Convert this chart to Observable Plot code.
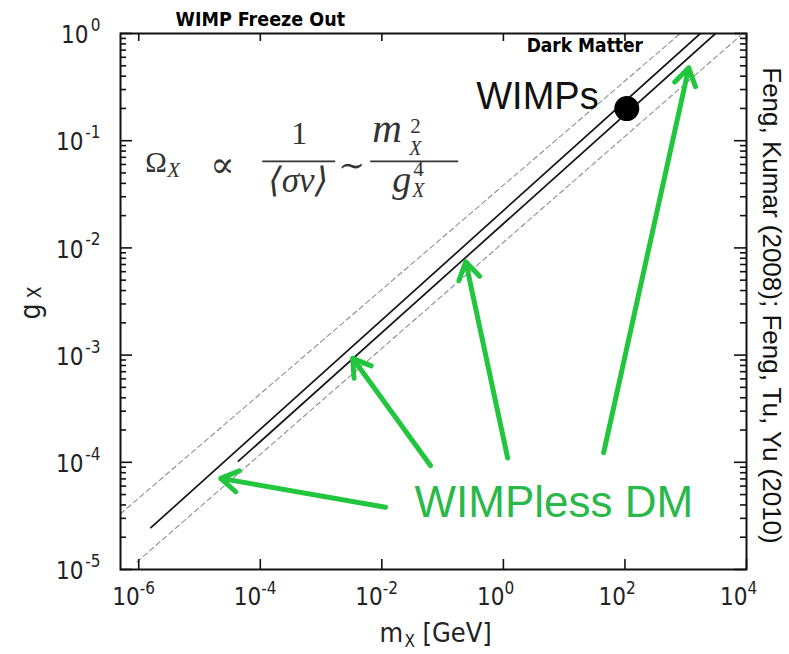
<!DOCTYPE html>
<html><head><meta charset="utf-8">
<script src="https://cdn.jsdelivr.net/npm/d3@7"></script>
<script src="https://cdn.jsdelivr.net/npm/@observablehq/plot@0.6"></script>
<style>
body{margin:0;background:#fff}
#chart{width:789px;height:654px}
</style>
</head><body><div id="chart"></div>
<script>
// ---- data (log10 values) ----
const xDomainLog = [-6.3, 4];
const yDomainLog = [-5, 0];
const xTickExps = [-6, -4, -2, 0, 2, 4];
const yTickExps = [0, -1, -2, -3, -4, -5];
const minorMultipliers = [2, 3, 4, 5, 6, 7, 8, 9];

// straight lines in log-log: endpoints [log10 m, log10 g]
const solidLineA = [[-5.80, -4.61], [3.24, 0.00]];
const solidLineB = [[-4.36, -3.99], [3.49, 0.00]];
const dashedLineA = [[-6.30, -4.48], [2.91, 0.00]];
const dashedLineB = [[-6.03, -4.93], [3.90, -0.02]];

// arrows: tail and head, log10 values
const arrowTailM = [-1.94, -1.20, 0.07, 1.65];
const arrowTailG = [-4.42, -4.03, -3.96, -3.91];
const arrowHeadM = [-4.65, -2.48, -0.62, 3.05];
const arrowHeadG = [-4.15, -3.03, -2.13, -0.32];

const wimpPoint = [2.03, -0.70];

const labels = {
  title: "WIMP Freeze Out",
  dark: "Dark Matter",
  wimps: "WIMPs",
  wimpless: "WIMPless DM",
  ref: "Feng, Kumar (2008); Feng, Tu, Yu (2010)"
};
const titlePos = [-4.0];
const darkPos = [1.34, -0.12];
const wimpsPos = [0.56, -0.59];
const wimplessPos = [0.83, -4.38];
const formulaAnchor = [-5.885, -1.30];

// ---- build tables ----
const p10 = v => Math.pow(10, v);
const toRows = (pts, id) => pts.map(([m, g]) => ({m: p10(m), g: p10(g), id}));
const solidRows = [...toRows(solidLineA, "a"), ...toRows(solidLineB, "b")];
const dashedRows = [...toRows(dashedLineA, "a"), ...toRows(dashedLineB, "b")];
const arrowRows = arrowTailM.map((_, i) => ({
  x1: p10(arrowTailM[i]), y1: p10(arrowTailG[i]),
  x2: p10(arrowHeadM[i]), y2: p10(arrowHeadG[i])
}));
const xMajor = xTickExps.map(p10);
const yMajor = yTickExps.map(p10);
const yMinor = [];
for (let d = -5; d < 0; d++) for (const k of minorMultipliers) yMinor.push(k * p10(d));

const W = 789, H = 654, mL = 120, mR = 43, mT = 33, mB = 85;
const frameW = W - mL - mR, frameH = H - mT - mB;
const sans = "'Liberation Sans Narrow','DejaVu Sans Condensed','Liberation Sans',Arial,sans-serif";
const sansReg = "'Liberation Sans',Arial,Helvetica,sans-serif";
const green = "#22c63e";

const plot = Plot.plot({
  width: W, height: H,
  marginLeft: mL, marginRight: mR, marginTop: mT, marginBottom: mB,
  x: {type: "log", domain: xDomainLog.map(p10), axis: null},
  y: {type: "log", domain: yDomainLog.map(p10), axis: null},
  style: {fontFamily: sans, background: "white", color: "#111", overflow: "visible"},
  marks: [
    Plot.line(dashedRows, {x: "m", y: "g", z: "id", stroke: "#8f8f8f", strokeWidth: 1.1, strokeDasharray: "5,3.5", clip: true}),
    Plot.line(solidRows, {x: "m", y: "g", z: "id", stroke: "#151515", strokeWidth: 1.7, clip: true}),
    Plot.dot([wimpPoint], {x: d => p10(d[0]), y: d => p10(d[1]), r: 12.5, fill: "black"}),
    Plot.arrow(arrowRows, {x1: "x1", y1: "y1", x2: "x2", y2: "y2", stroke: green, strokeWidth: 5, headLength: 6, headAngle: 64}),
    Plot.frame({stroke: "#111", strokeWidth: 2}),
    Plot.tickX(xMajor, {x: d => d, stroke: "#111", strokeWidth: 1.6, insetTop: frameH - 10}),
    Plot.tickX(xMajor, {x: d => d, stroke: "#111", strokeWidth: 1.6, insetBottom: frameH - 8}),
    Plot.tickY(yMajor, {y: d => d, stroke: "#111", strokeWidth: 1.6, insetRight: frameW - 12}),
    Plot.tickY(yMinor, {y: d => d, stroke: "#111", strokeWidth: 1.6, insetRight: frameW - 6}),
    Plot.tickY(yMajor, {y: d => d, stroke: "#111", strokeWidth: 1.6, insetLeft: frameW - 12}),
    Plot.tickY(yMinor, {y: d => d, stroke: "#111", strokeWidth: 1.6, insetLeft: frameW - 6}),
    // x tick labels
    Plot.text(xTickExps, {x: e => p10(e), text: () => "10", frameAnchor: "bottom", textAnchor: "end", dx: 1, dy: 35, fontSize: 24, fill: "#222"}),
    Plot.text(xTickExps, {x: e => p10(e), text: e => String(e), frameAnchor: "bottom", textAnchor: "start", dx: 1, dy: 24, fontSize: 17, fill: "#222"}),
    // y tick labels
    Plot.text(yTickExps.filter(e => e === 0), {y: e => p10(e), text: () => "10", frameAnchor: "left", textAnchor: "end", dx: -32, dy: 2, fontSize: 24, fill: "#222"}),
    Plot.text(yTickExps.filter(e => e !== 0), {y: e => p10(e), text: () => "10", frameAnchor: "left", textAnchor: "end", dx: -37, dy: 2, fontSize: 24, fill: "#222"}),
    Plot.text(yTickExps, {y: e => p10(e), text: e => String(e), frameAnchor: "left", textAnchor: "end", dx: -20, dy: -8, fontSize: 17, fill: "#222"}),
    // axis labels
    Plot.text([0], {frameAnchor: "bottom", text: () => "m", textAnchor: "start", lineAnchor: "middle", dx: -54, dy: 64, fontSize: 27, fill: "#222"}),
    Plot.text([0], {frameAnchor: "bottom", text: () => "X", textAnchor: "start", lineAnchor: "middle", dx: -29, dy: 72, fontSize: 17, fill: "#222"}),
    Plot.text([0], {frameAnchor: "bottom", text: () => "[GeV]", textAnchor: "start", lineAnchor: "middle", dx: -11, dy: 64, fontSize: 27, fill: "#222"}),
    Plot.text([0], {frameAnchor: "left", text: () => "g", rotate: -90, textAnchor: "middle", lineAnchor: "middle", dx: -89, dy: 10, fontSize: 28, fill: "#222"}),
    Plot.text([0], {frameAnchor: "left", text: () => "X", rotate: -90, textAnchor: "middle", lineAnchor: "middle", dx: -86, dy: -9, fontSize: 19, fill: "#222"}),
    // annotations
    Plot.text([labels.title], {x: () => p10(titlePos[0]), text: d => d, frameAnchor: "top", lineAnchor: "middle", dy: -14, fontSize: 19.5, fontWeight: "bold", fill: "#000"}),
    Plot.text([labels.dark], {x: () => p10(darkPos[0]), y: () => p10(darkPos[1]), text: d => d, fontSize: 19, fontWeight: "bold", fill: "#000"}),
    Plot.text([labels.wimps], {x: () => p10(wimpsPos[0]), y: () => p10(wimpsPos[1]), text: d => d, fontSize: 38, fontFamily: sansReg, fill: "#111"}),
    Plot.text([labels.wimpless], {x: () => p10(wimplessPos[0]), y: () => p10(wimplessPos[1]), text: d => d, fontSize: 44, fontFamily: sansReg, fill: "#2ab84a"}),
    Plot.text([labels.ref], {frameAnchor: "right", text: d => d, rotate: 90, textAnchor: "middle", lineAnchor: "middle", dx: 25, dy: 4, fontSize: 26, fontFamily: sansReg, fill: "#111"})
  ]
});
document.getElementById("chart").appendChild(plot);

// ---- formula, typeset at a data anchor through Plot's scales ----
(function () {
  let sx, sy;
  try { sx = plot.scale("x").apply(p10(formulaAnchor[0])); sy = plot.scale("y").apply(p10(formulaAnchor[1])); }
  catch (e) {
    sx = d3.scaleLog().domain(xDomainLog.map(p10)).range([mL, W - mR])(p10(formulaAnchor[0]));
    sy = d3.scaleLog().domain(yDomainLog.map(p10)).range([H - mB, mT])(p10(formulaAnchor[1]));
  }
  const serif = "'Liberation Serif','DejaVu Serif',serif";
  const parts = [
    {t: "Ω", x: 0, y: 0, s: 29},
    {t: "X", x: 22, y: 5, s: 21, i: true},
    {t: "∝", x: 65, y: 5, s: 36},
    {t: "1", x: 154, y: -28, s: 32, a: "middle"},
    {t: "⟨σv⟩", x: 153, y: 20, s: 35, a: "middle", i: true},
    {t: "∼", x: 193, y: 4, s: 32},
    {t: "m", x: 227, y: -30, s: 41, i: true},
    {t: "2", x: 265, y: -39, s: 21},
    {t: "X", x: 264, y: -17, s: 20, i: true},
    {t: "g", x: 247, y: 20, s: 38, i: true},
    {t: "4", x: 268, y: 4, s: 21},
    {t: "X", x: 267, y: 25, s: 20, i: true}
  ];
  const g = d3.select(plot).append("g").attr("transform", `translate(${sx},${sy})`)
    .attr("font-family", serif).attr("fill", "#333");
  for (const p of parts) {
    g.append("text").attr("x", p.x).attr("y", p.y).attr("font-size", p.s)
      .attr("font-style", p.i ? "italic" : "normal")
      .attr("text-anchor", p.a || "start").text(p.t);
  }
  g.append("line").attr("x1", 117).attr("x2", 190).attr("y1", -11).attr("y2", -11).attr("stroke", "#333").attr("stroke-width", 1.6);
  g.append("line").attr("x1", 225).attr("x2", 313).attr("y1", -11).attr("y2", -11).attr("stroke", "#333").attr("stroke-width", 1.6);
})();
</script>
</body></html>
